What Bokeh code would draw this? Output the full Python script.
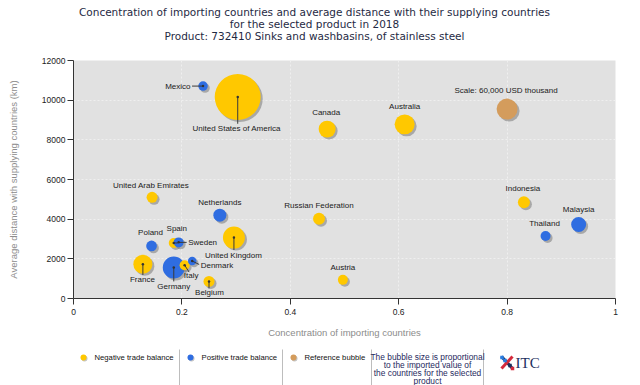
import math
from bokeh.plotting import figure
from bokeh.models import ColumnDataSource, FixedTicker
from bokeh.layouts import column
from bokeh.embed import file_html
from bokeh.resources import INLINE
from bokeh.core.properties import value

# ---------------- data ----------------
title_lines = [
    "Concentration of importing countries and average distance with their supplying countries",
    "for the selected product in 2018",
    "Product: 732410 Sinks and washbasins, of stainless steel",
]
countries = ["United States of America", "Mexico", "Canada", "Australia", "Indonesia",
             "Malaysia", "Thailand", "Russian Federation", "Austria", "United Arab Emirates",
             "Netherlands", "Poland", "Spain", "Sweden", "United Kingdom", "France",
             "Germany", "Italy", "Denmark", "Belgium"]
concentration = [0.303, 0.239, 0.468, 0.611, 0.831, 0.932, 0.871, 0.453, 0.497, 0.145,
                 0.270, 0.144, 0.185, 0.194, 0.296, 0.128, 0.185, 0.205, 0.219, 0.250]
distance = [10160, 10710, 8540, 8780, 4850, 3730, 3150, 4020, 940, 5100,
            4200, 2650, 2800, 2830, 3070, 1730, 1560, 1680, 1890, 860]
import_value = [288000, 12300, 39300, 54400, 19600, 30600, 13600, 19600, 13600, 16500,
                23000, 15600, 13600, 13600, 65800, 49100, 65800, 13600, 9800, 16500]
trade_balance = ["negative", "positive", "negative", "negative", "negative", "positive",
                 "positive", "negative", "negative", "negative", "positive", "positive",
                 "negative", "positive", "negative", "negative", "positive", "negative",
                 "positive", "negative"]
ref_label = "Scale: 60,000 USD thousand"
ref_concentration = 0.800
ref_distance = 9550
ref_value = 60000

x_ticks = [0, 0.2, 0.4, 0.6, 0.8, 1]
x_tick_labels = ["0", "0.2", "0.4", "0.6", "0.8", "1"]
y_ticks = [0, 2000, 4000, 6000, 8000, 10000, 12000]
y_tick_labels = ["0", "2000", "4000", "6000", "8000", "10000", "12000"]

legend_labels = ["Negative trade balance", "Positive trade balance", "Reference bubble"]
note_lines = ["The bubble size is proportional", "to the imported value of",
              "the countries for the selected", "product"]

# ---------------- style ----------------
COLORS = {"negative": "#FFC800", "positive": "#2F6DE1", "reference": "#D49C5C"}
FONT = value("Liberation Sans")
REF_DIAM = 21.0
W = 640
BL, BR = 73, 25
TH, H, LH = 54, 286, 45
BT, BB = 6, 40
FW, FH = W - BL - BR, H - BT - BB
XMAX, YMAX = 1.0, 12000.0
px_x = XMAX / FW
px_y = YMAX / FH

# label placement (pixel offsets relative to bubble centre): dx, dy, align, leader(dx,dy) or None
label_pos = {
    "United States of America": (-1, 32, "center", (0, 27)),
    "Mexico": (-12.5, 0.5, "right", (-11, 0)),
    "Canada": (-1, -17, "center", None),
    "Australia": (0, -17.5, "center", None),
    "Indonesia": (-1, -14, "center", None),
    "Malaysia": (0, -15, "center", None),
    "Thailand": (-1, -13, "center", None),
    "Russian Federation": (0, -13.5, "center", None),
    "Austria": (0, -12, "center", None),
    "United Arab Emirates": (-1, -12, "center", None),
    "Netherlands": (0, -12.5, "center", None),
    "Poland": (-1, -13, "center", None),
    "Spain": (3, -14, "center", (4, 0)),
    "Sweden": (9.5, 0, "left", (8, 0)),
    "United Kingdom": (-0.5, 17.5, "center", (0, 12.5)),
    "France": (-0.5, 15.5, "center", (0, 11)),
    "Germany": (0, 19, "center", (0, 14)),
    "Italy": (6.5, 10.5, "center", (4.5, 7)),
    "Denmark": (8.5, 4, "left", (7, 3.5)),
    "Belgium": (0.5, 11, "center", (0, 7)),
}

def diam(v):
    return REF_DIAM * math.sqrt(v / ref_value)

def blank(height):
    f = figure(width=W, height=height, x_range=(BL, W - BR), y_range=(height, 0),
               output_backend="svg", toolbar_location=None, x_axis_location=None,
               y_axis_location=None, min_border_left=BL, min_border_right=BR,
               min_border_top=0, min_border_bottom=0)
    f.grid.visible = False
    f.outline_line_color = None
    return f

# ---------------- title figure ----------------
tf = blank(TH)
tf.text(x=[314] * 3, y=[11.5, 23.5, 35.5], text=title_lines, text_align="center",
        text_baseline="middle", text_font=value("DejaVu Sans"), text_font_size="10.5px",
        text_color="#1f2a44")

# ---------------- main figure ----------------
p = figure(width=W, height=H, x_range=(0, XMAX), y_range=(0, YMAX), output_backend="svg",
           toolbar_location=None, min_border_left=BL, min_border_right=BR,
           min_border_top=BT, min_border_bottom=BB)
p.background_fill_color = "#e1e1e1"
p.outline_line_color = None
p.grid.grid_line_color = "#efefef"
p.grid.grid_line_dash = "2 2"
p.xaxis.ticker = FixedTicker(ticks=x_ticks)
p.yaxis.ticker = FixedTicker(ticks=y_ticks)
p.xaxis.major_label_overrides = {t: l for t, l in zip(x_ticks, x_tick_labels)}
p.yaxis.major_label_overrides = {t: l for t, l in zip(y_ticks, y_tick_labels)}
for ax in (p.xaxis, p.yaxis):
    ax.axis_line_color = "#333333"
    ax.major_tick_line_color = "#333333"
    ax.major_tick_out = 6
    ax.major_tick_in = 0
    ax.minor_tick_line_color = None
    ax.major_label_text_font = "Liberation Sans"
    ax.major_label_text_font_size = "8.5px"
    ax.major_label_text_color = "#222222"
    ax.axis_label_text_font = "Liberation Sans"
    ax.axis_label_text_font_size = "9.5px"
    ax.axis_label_text_font_style = "normal"
    ax.axis_label_text_color = "#8c8c8c"
p.xaxis.axis_label = "Concentration of importing countries"
p.yaxis.axis_label = "Average distance with supplying countries (km)"
p.xaxis.major_label_standoff = 4
p.xaxis.axis_label_standoff = 9
p.yaxis.major_label_standoff = 2
p.yaxis.axis_label_standoff = 20

# bubbles (shadow + bubble interleaved, largest first)
all_x = concentration + [ref_concentration]
all_y = distance + [ref_distance]
all_v = import_value + [ref_value]
all_t = trade_balance + ["reference"]
order = sorted(range(len(all_x)), key=lambda i: -all_v[i])
bx, by, bs, bc, ba = [], [], [], [], []
for i in order:
    d = diam(all_v[i])
    bx += [all_x[i] + 2 * px_x, all_x[i]]
    by += [all_y[i] - 2 * px_y, all_y[i]]
    bs += [d, d]
    bc += ["#7a7a7a", COLORS[all_t[i]]]
    ba += [0.55, 1.0]
p.scatter(x="x", y="y", size="s", fill_color="c", fill_alpha="a", line_color=None,
          source=ColumnDataSource(dict(x=bx, y=by, s=bs, c=bc, a=ba)))

# leader lines and labels
lx0, ly0, lx1, ly1 = [], [], [], []
groups = {"center": ([], [], [], [], []), "left": ([], [], [], [], []), "right": ([], [], [], [], [])}
for name, cx, cy in zip(countries, concentration, distance):
    dx, dy, al, lead = label_pos[name]
    g = groups[al]
    g[0].append(cx); g[1].append(cy); g[2].append(name); g[3].append(dx); g[4].append(dy)
    if lead is not None:
        lx0.append(cx); ly0.append(cy)
        lx1.append(cx + lead[0] * px_x); ly1.append(cy - lead[1] * px_y)
groups["center"][0].append(ref_concentration); groups["center"][1].append(ref_distance)
groups["center"][2].append(ref_label); groups["center"][3].append(-1); groups["center"][4].append(-19)

p.segment(x0=lx0, y0=ly0, x1=lx1, y1=ly1, line_color="#3a3a3a", line_width=1)
p.scatter(x=lx0, y=ly0, size=2.5, fill_color="#333333", line_color=None)
for al, g in groups.items():
    if not g[0]:
        continue
    p.text(x=g[0], y=g[1], text=g[2], x_offset=g[3], y_offset=g[4], text_align=al,
           text_baseline="middle", text_font=FONT, text_font_size="8px", text_color="#1a1a1a")

# ---------------- legend figure ----------------
lf = blank(LH)
mk_x = [83, 190, 293]
mk_c = [COLORS["negative"], COLORS["positive"], COLORS["reference"]]
lf.scatter(x=[v + 1 for v in mk_x], y=[18] * 3, size=6, fill_color="#8a8a8a", fill_alpha=0.5, line_color=None)
lf.scatter(x=mk_x, y=[17] * 3, size=6, fill_color=mk_c, line_color=None)
lf.text(x=[v + 11 for v in mk_x], y=[17] * 3, text=legend_labels, text_align="left",
        text_baseline="middle", text_font=FONT, text_font_size="7.7px", text_color="#111111")
sep_x = [179, 282, 371, 483]
lf.segment(x0=sep_x, y0=[9] * 4, x1=sep_x, y1=[LH] * 4, line_color="#bdbdbd", line_width=1)
lf.text(x=[427] * 4, y=[16, 24.3, 32.6, 40.9], text=note_lines, text_align="center",
        text_baseline="middle", text_font=FONT, text_font_size="8.4px", text_color="#1f2a60")
# ITC logo
lf.segment(x0=[501, 512], y0=[16, 16], x1=[512, 501], y1=[28, 28],
           line_color=["#1c2f5e", "#d42a3c"], line_width=3)
lf.scatter(x=[501.5, 504.5, 509.5, 512], y=[17, 20, 25, 28], size=3.5, marker="square",
           fill_color=["#2a7de1", "#2a7de1", "#1c2f5e", "#d42a3c"], line_color=None)
lf.text(x=[515], y=[22.5], text=["ITC"], text_align="left", text_baseline="middle",
        text_font=value("Liberation Serif"), text_font_size="15px", text_color="#1c2f5e")

layout = column(tf, p, lf, spacing=0)
open("out.html", "w").write(file_html(layout, INLINE))
